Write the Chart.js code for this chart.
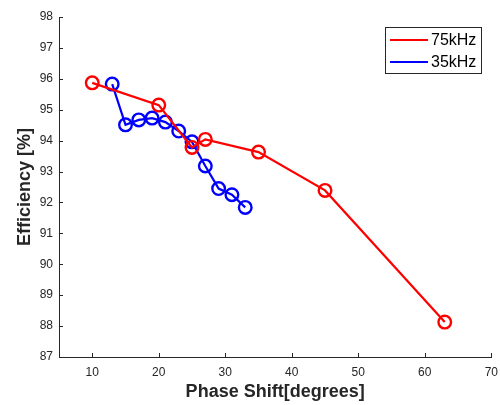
<!DOCTYPE html>
<html>
<head>
<meta charset="utf-8">
<script src="https://cdn.jsdelivr.net/npm/chart.js@4.4.1/dist/chart.umd.min.js"></script>
<style>
  html, body { margin: 0; padding: 0; background: #fff; }
  #wrap { width: 500px; height: 405px; }
</style>
</head>
<body>
<div id="wrap"><canvas id="myChart" width="500" height="405"></canvas></div>
<script>
// phase shift (degrees) and efficiency (%)
const phase75 = [10, 20, 25, 27, 35, 45, 63];
const eff75 = [95.87, 95.15, 93.78, 94.04, 93.63, 92.39, 88.13];

const phase35 = [13, 15, 17, 19, 21, 23, 25, 27, 29, 31, 33];
const eff35 = [95.83, 94.51, 94.67, 94.73, 94.6, 94.31, 93.96, 93.18, 92.45, 92.25, 91.84];

const xTicks = [10, 20, 30, 40, 50, 60, 70];
const yTicks = [87, 88, 89, 90, 91, 92, 93, 94, 95, 96, 97, 98];

const labels = ['75kHz', '35kHz'];
const colors = ['#ff0000', '#0000ff'];

const axisColor = '#262626';
const font = 'Liberation Sans, Arial, Helvetica, sans-serif';

function toPoints(xs, ys) {
  return xs.map((x, i) => ({ x: x, y: ys[i] }));
}

// matlab style: ticks pointing inward + boxed legend in the corner
const matlabBits = {
  id: 'matlabBits',
  afterDraw(chart) {
    const c = chart.ctx;
    const area = chart.chartArea;
    const xs = chart.scales.x;
    const ys = chart.scales.y;
    c.save();
    c.strokeStyle = axisColor;
    c.lineWidth = 1;
    c.beginPath();
    xTicks.forEach(v => {
      const px = Math.round(xs.getPixelForValue(v)) + 0.5;
      c.moveTo(px, area.bottom);
      c.lineTo(px, area.bottom - 4);
    });
    yTicks.forEach(v => {
      const py = Math.round(ys.getPixelForValue(v)) + 0.5;
      c.moveTo(area.left, py);
      c.lineTo(area.left + 4, py);
    });
    c.stroke();

    // legend box
    const bx = 385.5, by = 27.5, bw = 96, bh = 46;
    c.fillStyle = '#fff';
    c.fillRect(bx, by, bw, bh);
    c.strokeStyle = axisColor;
    c.strokeRect(bx, by, bw, bh);
    c.font = '16px ' + font;
    c.textBaseline = 'middle';
    labels.forEach((lab, i) => {
      const ly = 40 + i * 22;
      c.strokeStyle = colors[i];
      c.lineWidth = 2;
      c.beginPath();
      c.moveTo(390, ly);
      c.lineTo(428, ly);
      c.stroke();
      c.fillStyle = '#000';
      c.fillText(lab, 431, ly + 1);
    });
    c.restore();
  }
};

const ctx = document.getElementById('myChart');

new Chart(ctx, {
  type: 'line',
  data: {
    datasets: [
      {
        label: labels[0],
        data: toPoints(phase75, eff75),
        borderColor: colors[0],
        backgroundColor: 'rgba(0,0,0,0)',
        pointBorderColor: colors[0],
        pointBackgroundColor: 'rgba(0,0,0,0)',
        borderWidth: 2.2,
        pointRadius: 6.3,
        pointBorderWidth: 2.4,
        tension: 0,
        fill: false
      },
      {
        label: labels[1],
        data: toPoints(phase35, eff35),
        borderColor: colors[1],
        backgroundColor: 'rgba(0,0,0,0)',
        pointBorderColor: colors[1],
        pointBackgroundColor: 'rgba(0,0,0,0)',
        borderWidth: 2.2,
        pointRadius: 6.3,
        pointBorderWidth: 2.4,
        tension: 0,
        fill: false
      }
    ]
  },
  options: {
    responsive: false,
    animation: false,
    layout: { padding: { top: 17, right: 8, left: 0, bottom: 0 } },
    scales: {
      x: {
        type: 'linear',
        min: 5,
        max: 70,
        afterBuildTicks: s => { s.ticks = xTicks.map(v => ({ value: v })); },
        afterFit: s => { s.height = 48; s.paddingLeft = 0; s.paddingRight = 0; },
        grid: { display: true, drawOnChartArea: false, drawTicks: false },
        border: { display: true, color: axisColor, width: 1 },
        ticks: { color: axisColor, font: { family: font, size: 12 }, padding: 8, maxRotation: 0 },
        title: {
          display: true,
          text: 'Phase Shift[degrees]',
          color: axisColor,
          font: { family: font, size: 18, weight: 'bold' },
          padding: { top: 0, bottom: 2 }
        }
      },
      y: {
        type: 'linear',
        min: 87,
        max: 98,
        afterBuildTicks: s => { s.ticks = yTicks.map(v => ({ value: v })); },
        afterFit: s => { s.width = 59; s.paddingTop = 0; s.paddingBottom = 0; },
        grid: { display: true, drawOnChartArea: false, drawTicks: false },
        border: { display: true, color: axisColor, width: 1 },
        ticks: { color: axisColor, font: { family: font, size: 12 }, padding: 6 },
        title: {
          display: true,
          text: 'Efficiency [%]',
          color: axisColor,
          font: { family: font, size: 18, weight: 'bold' },
          padding: { top: 14, bottom: 0 }
        }
      }
    },
    plugins: {
      legend: { display: false },
      tooltip: { enabled: false }
    }
  },
  plugins: [matlabBits]
});
</script>
</body>
</html>
